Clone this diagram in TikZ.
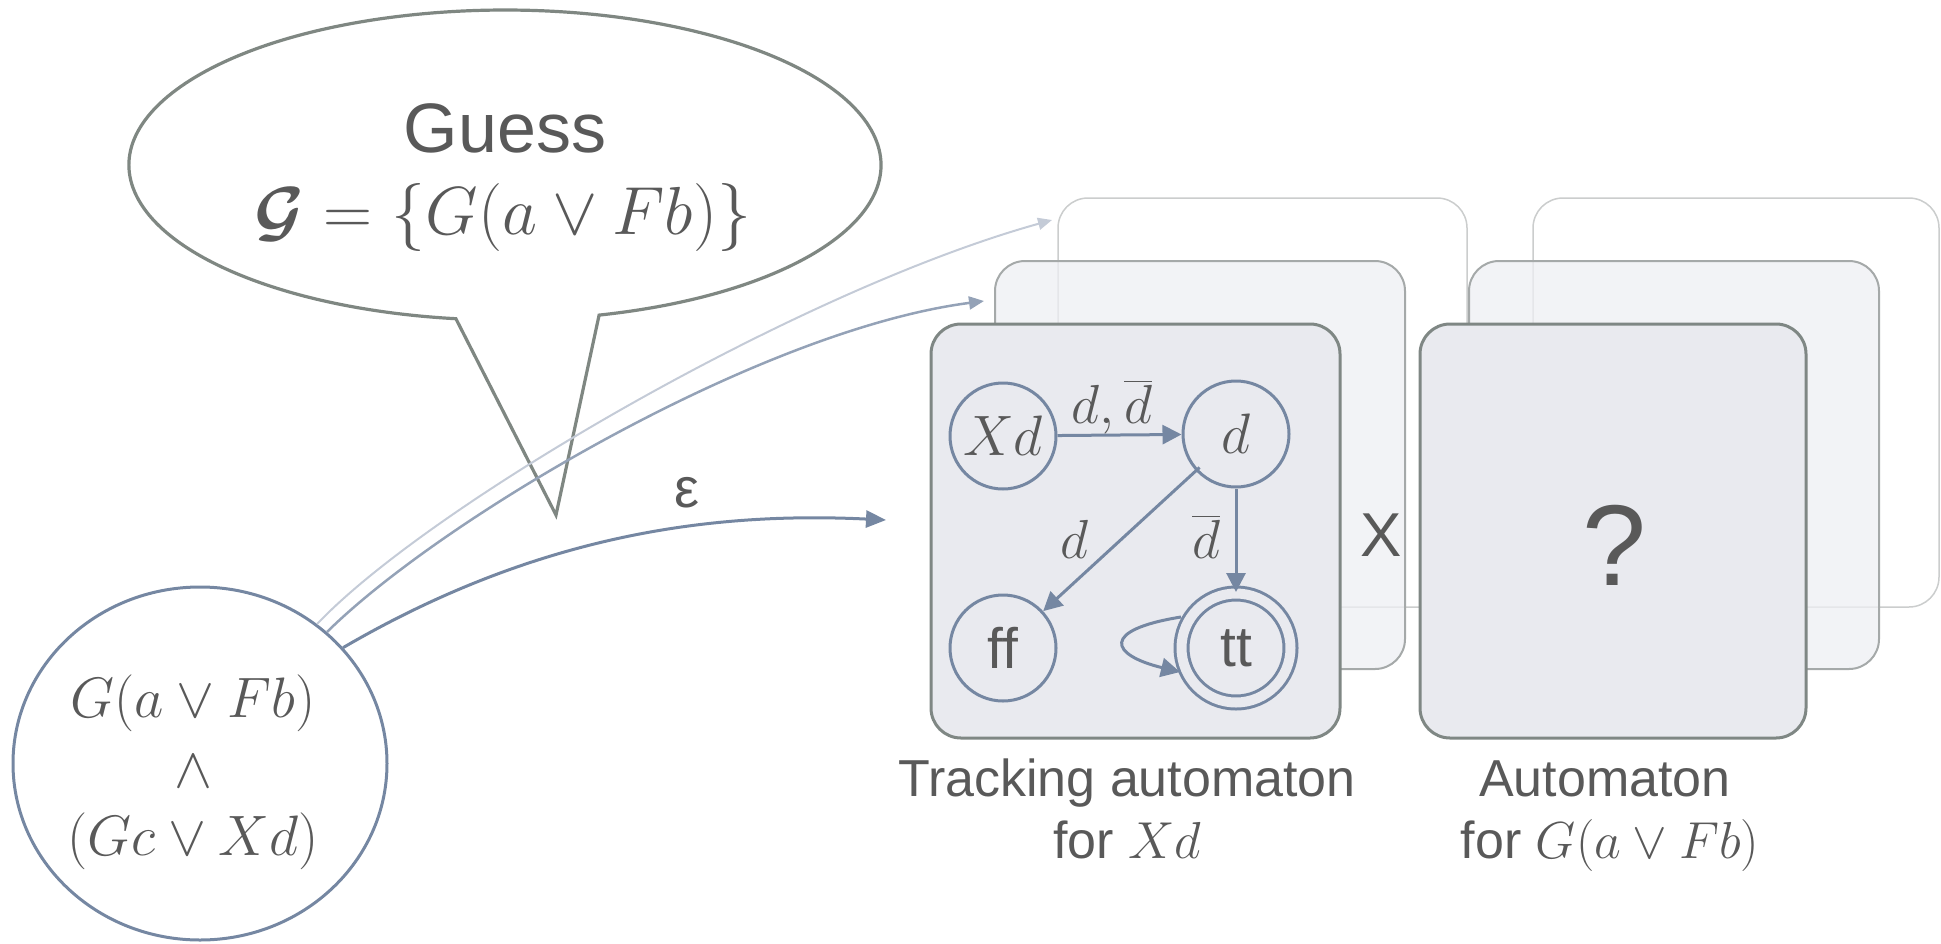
\RequirePackage{fix-cm}
\documentclass[tikz,border=0pt]{standalone}
\usepackage{amsmath}
\usepackage{fontspec}
\setmainfont{Liberation Sans}
\usetikzlibrary{arrows.meta,shapes.geometric}

\definecolor{ink}{HTML}{595959}
\definecolor{slate}{HTML}{7587A2}
\definecolor{bubbleline}{HTML}{7F8782}
\definecolor{boxline}{HTML}{7F8784}
\definecolor{boxfill}{HTML}{E9EAEF}
\definecolor{midline}{HTML}{A5A9A9}
\definecolor{midfill}{HTML}{EEEFF3}
\definecolor{backline}{HTML}{CBCDCD}
\definecolor{faintA}{HTML}{94A2B7}
\definecolor{faintB}{HTML}{C4CBD7}

\tikzset{
  every node/.style={text=ink, inner sep=0pt},
  bubble/.style={draw=bubbleline, line width=3.2pt, fill=white, line join=miter},
  frontbox/.style={draw=boxline, line width=3pt, fill=boxfill, rounded corners=30pt},
  midbox/.style={draw=midline, line width=2pt, fill=midfill, fill opacity=0.75, rounded corners=30pt},
  backbox/.style={draw=backline, line width=1.5pt, fill=white, rounded corners=30pt},
  state/.style={circle, draw=slate, line width=3pt, minimum size=106pt, fill=boxfill,
    font=\fontsize{57}{60}\selectfont},
  accepting/.style={double=boxfill, double distance=10pt, minimum size=109pt},
  trans/.style={draw=slate, line width=3pt, -{Triangle[length=19pt,width=19pt]}},
  epsarrow/.style={draw=slate, line width=3pt, -{Triangle[length=20pt,width=17pt]}},
  guessA/.style={draw=faintA, line width=2.5pt, -{Triangle[length=15pt,width=13pt]}},
  guessB/.style={draw=faintB, line width=2pt, -{Triangle[length=14pt,width=12pt]}},
  mathbig/.style={font=\fontsize{57}{60}\selectfont},
  lbl/.style={font=\fontsize{55}{60}\selectfont},
  caption/.style={font=\fontsize{52}{60}\selectfont, anchor=base},
}

\begin{document}
\begin{tikzpicture}[x=1pt,y=-1pt]
\useasboundingbox (0,0) rectangle (1941,943);

% speech bubble with the guessed set
\draw[bubble] (599.1,315.1) arc[start angle=-75.5,end angle=262.5,x radius=376pt,y radius=155pt]
  -- (556,515) -- cycle;
\node[font=\fontsize{70}{80}\selectfont, anchor=base] (guess) at (505,152) {Guess};
\node[font=\fontsize{68}{80}\selectfont, anchor=base] (gset) at (503,234)
  {$\boldsymbol{\mathcal{G}} = \{G(a\vee Fb)\}$};

% the input formula
\node[ellipse, draw=slate, line width=3pt, minimum width=374pt, minimum height=353pt] (phi) at (200,763.5) {};
\node[mathbig, anchor=base] (phiA) at (193,717) {$G(a\vee Fb)$};
\node[mathbig, anchor=base] (phiB) at (193,787) {$\wedge$};
\node[mathbig, anchor=base] (phiC) at (193,855) {$(Gc\vee Xd)$};

% stacked product automata
\node[backbox, minimum width=409pt, minimum height=409pt] (back1) at (1262.5,402.5) {};
\node[backbox, minimum width=406pt, minimum height=409pt] (back2) at (1736,402.5) {};
\node[midbox, minimum width=410pt, minimum height=408pt] (mid1) at (1200,465) {};
\node[midbox, minimum width=410pt, minimum height=408pt] (mid2) at (1674,465) {};
\node[frontbox, minimum width=409pt, minimum height=414pt] (trk) at (1135.5,531) {};
\node[frontbox, minimum width=386pt, minimum height=414pt] (aut) at (1613,531) {};

\node[font=\fontsize{62}{70}\selectfont] (times) at (1381,535) {X};
\node[font=\fontsize{115}{120}\selectfont] (unknown) at (1614,545) {?};

% branches from the formula
\coordinate (epsTip) at (886,520);
\coordinate (midTip) at (984,301);
\coordinate (backTip) at (1052,220);
\draw[guessB] (phi.50) .. controls (430,505) and (800,290) .. (backTip);
\draw[guessA] (phi.46) .. controls (440,520) and (760,330) .. (midTip);
\draw[epsarrow] (phi.39) .. controls (543,531) and (720,512) .. (epsTip);
\node[font=\fontsize{56}{60}\selectfont] (eps) at (687,493) {ε};

% tracking automaton for Xd
\node[state] (Xd) at (1003,436) {$Xd$};
\node[state] (d) at (1236,434) {$d$};
\node[state] (ff) at (1003,648) {ff};
\node[state, accepting] (tt) at (1236,648) {tt};

\draw[trans] (Xd) -- (d);
\draw[trans, shorten <=-5pt] (d) -- (ff);
\draw[trans] (d) -- (tt);
\draw[trans] ([shift={(-55,-31)}]tt.center)
  .. controls ([shift={(-136,-18)}]tt.center) and ([shift={(-126,7)}]tt.center)
  .. ([shift={(-56,24)}]tt.center);

\node[lbl, anchor=base] (lab1) at (1112,423) {$d,\overline{d}$};
\node[lbl, anchor=base] (lab2) at (1074,558) {$d$};
\node[lbl, anchor=base] (lab3) at (1206,558) {$\overline{d}$};

% captions
\node[caption] (capA1) at (1127,796) {Tracking automaton};
\node[caption] (capA2) at (1127,858) {for $Xd$};
\node[caption] (capB1) at (1605,796) {Automaton};
\node[caption] (capB2) at (1610,858) {for $G(a\vee Fb)$};
\end{tikzpicture}
\end{document}
